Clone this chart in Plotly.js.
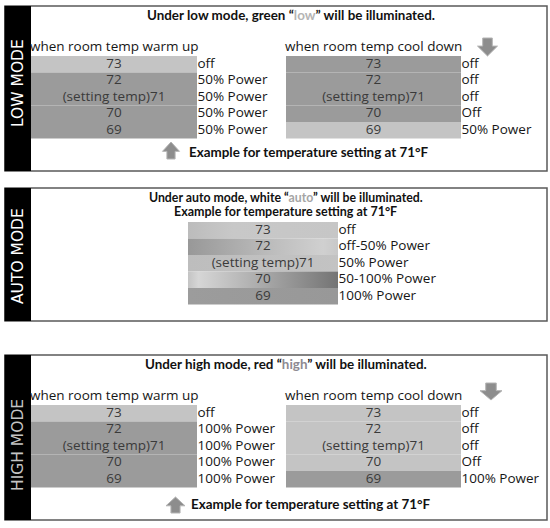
<!DOCTYPE html>
<html>
<head>
<meta charset="utf-8">
<script src="https://cdn.plot.ly/plotly-3.0.1.min.js"></script>
<style>
  html, body { margin: 0; padding: 0; background: #ffffff; }
  #main-screen { width: 550px; height: 528px; }
</style>
</head>
<body>
<div id="main-screen"></div>
<script>
// ------------------------------------------------------------------------------
// DATA

const temps        = ['73', '72', '(setting temp)71', '70', '69'];

const lowWarmState = ['off', '50% Power', '50% Power', '50% Power', '50% Power'];
const lowCoolState = ['off', 'off', 'off', 'Off', '50% Power'];
const autoState    = ['off', 'off-50% Power', '50% Power', '50-100% Power', '100% Power'];
const highWarmState = ['off', '100% Power', '100% Power', '100% Power', '100% Power'];
const highCoolState = ['off', 'off', 'off', 'Off', '100% Power'];

// which band a row belongs to (0 = light, 1 = dark)
const lowWarmBand  = [0, 1, 1, 1, 1];
const lowCoolBand  = [1, 1, 1, 1, 0];
const highWarmBand = [0, 1, 1, 1, 1];
const highCoolBand = [0, 0, 0, 0, 1];

// ------------------------------------------------------------------------------
// PARAMETERS

const font_text  = '"Open Sans", "DejaVu Sans", sans-serif';
const font_bold  = 'Lato, "Open Sans", sans-serif';
const font_side  = '"DejaVu Sans", sans-serif';
const rowH       = 16.5;
const bandColors = ['#c4c4c4', '#9b9b9b'];

// horizontal gradients for the auto rows
const autoGradients = [
    [[0, '#bcbcbc'], [0.3, '#c8c8c8'], [1, '#c6c6c6']],
    [[0, '#989898'], [0.55, '#bcbcbc'], [0.9, '#d0d0d0'], [1, '#c8c8c8']],
    [[0, '#bdbdbd'], [1, '#c3c3c3']],
    [[0, '#c4c4c4'], [0.07, '#d6d6d6'], [0.5, '#a9a9a9'], [1, '#747474']],
    [[0, '#9c9c9c'], [1, '#989898']]
];

const tables = [
    {x0: 31,  x1: 197, top: 56,  states: lowWarmState,  bands: lowWarmBand,  header: 'when room temp warm up'},
    {x0: 286, x1: 461, top: 56,  states: lowCoolState,  bands: lowCoolBand,  header: 'when room temp cool down'},
    {x0: 188, x1: 338, top: 222, states: autoState,     gradients: autoGradients},
    {x0: 31,  x1: 197, top: 405, states: highWarmState, bands: highWarmBand, header: 'when room temp warm up'},
    {x0: 286, x1: 461, top: 405, states: highCoolState, bands: highCoolBand, header: 'when room temp cool down'}
];

const panels = [
    {y0: 6,   y1: 171, label: 'LOW MODE',  labelY: 83,  labelColor: '#ffffff'},
    {y0: 188, y1: 321, label: 'AUTO MODE', labelY: 256, labelColor: '#ffffff'},
    {y0: 355, y1: 520, label: 'HIGH MODE', labelY: 445, labelColor: '#c4c4c4'}
];

// ------------------------------------------------------------------------------
// UTILITIES

function upArrow(cx, ty, hw, h) {
    const hy = ty + h * 0.55;
    const sw = hw * 0.48;
    return `M ${cx - hw},${hy} L ${cx},${ty} L ${cx + hw},${hy} L ${cx + sw},${hy} ` +
           `L ${cx + sw},${ty + h} L ${cx - sw},${ty + h} L ${cx - sw},${hy} Z`;
}

function downArrow(cx, by, hw, h) {
    const hy = by - h * 0.55;
    const sw = hw * 0.48;
    return `M ${cx - hw},${hy} L ${cx},${by} L ${cx + hw},${hy} L ${cx + sw},${hy} ` +
           `L ${cx + sw},${by - h} L ${cx - sw},${by - h} L ${cx - sw},${hy} Z`;
}

function arrowShape(path) {
    return {
        type: 'path', xref: 'x', yref: 'y', path: path,
        fillcolor: '#8d8d8d',
        line: {color: '#b4b4b4', width: 1}
    };
}

// ------------------------------------------------------------------------------
// LOGIC

const traces      = [];
const shapes      = [];
const annotations = [];

for (const p of panels) {
    shapes.push({
        type: 'rect', xref: 'x', yref: 'y',
        x0: 5, x1: 547, y0: p.y0, y1: p.y1,
        fillcolor: '#ffffff',
        line: {color: '#5a5a5a', width: 1.5},
        layer: 'below'
    });
    shapes.push({
        type: 'rect', xref: 'x', yref: 'y',
        x0: 4.5, x1: 31, y0: p.y0, y1: p.y1,
        fillcolor: '#000000',
        line: {width: 0},
        layer: 'below'
    });
    annotations.push({
        text: p.label,
        x: 18, y: p.labelY, xref: 'x', yref: 'y',
        textangle: -90, showarrow: false,
        font: {family: font_side, size: 15.5, color: p.labelColor}
    });
}

for (const t of tables) {
    const cx   = (t.x0 + t.x1) / 2;
    const mids = [];

    temps.forEach((temp, i) => {
        const y0 = t.top + i * rowH;
        const y1 = y0 + rowH;
        mids.push((y0 + y1) / 2);

        const cell = {
            x: [t.x0, t.x1, t.x1, t.x0, t.x0],
            y: [y0, y0, y1, y1, y0],
            mode: 'lines',
            type: 'scatter',
            fill: 'toself',
            line: {width: 0},
            hoverinfo: 'skip'
        };
        if (t.gradients) {
            cell.fillgradient = {type: 'horizontal', colorscale: t.gradients[i]};
        }
        else {
            cell.fillcolor = bandColors[t.bands[i]];
        }
        traces.push(cell);
    });

    traces.push({
        x: temps.map(() => cx),
        y: mids,
        text: temps,
        mode: 'text',
        type: 'scatter',
        textposition: 'middle center',
        textfont: {family: font_text, size: 13.5, color: '#3a3a3a'},
        hoverinfo: 'skip'
    });

    traces.push({
        x: t.states.map(() => t.x1 + 0.5),
        y: mids,
        text: t.states,
        mode: 'text',
        type: 'scatter',
        textposition: 'middle right',
        textfont: {family: font_text, size: 13.5, color: '#161616'},
        hoverinfo: 'skip'
    });

    if (t.header) {
        annotations.push({
            text: t.header,
            x: cx, y: t.top - 10, xref: 'x', yref: 'y',
            showarrow: false,
            font: {family: font_text, size: 13.5, color: '#161616'}
        });
    }
}

// titles
const titles = [
    {text: 'Under low mode, green “<span style="color:#b5b5b5">low</span>” will be illuminated.', x: 291, y: 15, size: 13.4},
    {text: 'Under auto mode, white “<span style="color:#a5a5a5">auto</span>” will be illuminated.', x: 286, y: 197.5, size: 12.3},
    {text: 'Example for temperature setting at 71°F', x: 285, y: 211, size: 12.5},
    {text: 'Under high mode, red “<span style="color:#8e8a92">high</span>” will be illuminated.', x: 286, y: 364, size: 13.4}
];
for (const tt of titles) {
    annotations.push({
        text: tt.text, x: tt.x, y: tt.y, xref: 'x', yref: 'y',
        showarrow: false,
        font: {family: font_bold, size: tt.size, color: '#111111', weight: 700}
    });
}

const examples = [{x: 187, y: 151.5}, {x: 189, y: 504}];
for (const ex of examples) {
    annotations.push({
        text: 'Example for temperature setting at 71°F',
        x: ex.x, y: ex.y, xref: 'x', yref: 'y', xanchor: 'left',
        showarrow: false,
        font: {family: font_bold, size: 13.4, color: '#111111', weight: 700}
    });
}

shapes.push(arrowShape(upArrow(171, 142, 8.5, 17)));
shapes.push(arrowShape(downArrow(487.5, 56, 10, 18)));
shapes.push(arrowShape(upArrow(175.5, 497, 9.5, 16)));
shapes.push(arrowShape(downArrow(491, 400, 11, 17)));

var layout = {
    width : 550,
    height: 528,
    showlegend: false,
    dragmode: false,
    paper_bgcolor: '#ffffff',
    plot_bgcolor : '#ffffff',
    margin: {l: 0, r: 0, t: 0, b: 0, pad: 0},
    xaxis: {range: [0, 550], visible: false, fixedrange: true},
    yaxis: {range: [528, 0], visible: false, fixedrange: true},
    shapes: shapes,
    annotations: annotations
};

Plotly.newPlot('main-screen', traces, layout, {displayModeBar: false, staticPlot: true});
</script>
</body>
</html>
